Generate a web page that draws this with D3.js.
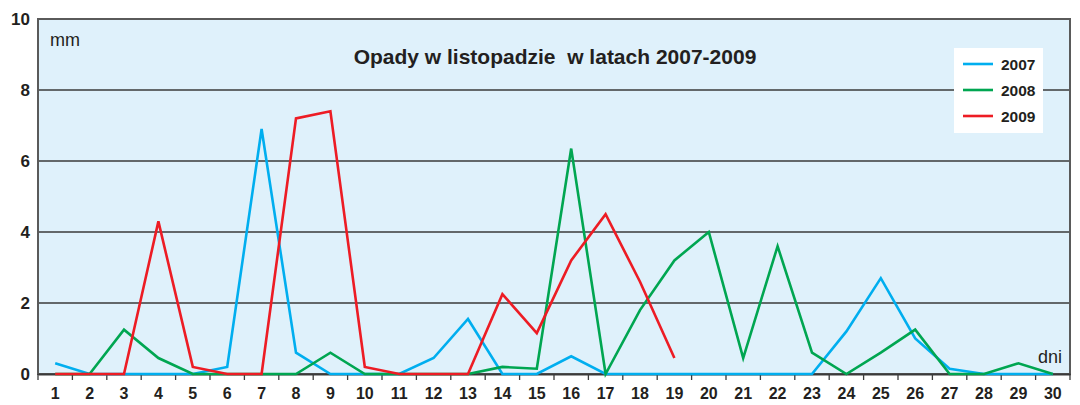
<!DOCTYPE html>
<html><head><meta charset="utf-8">
<script src="https://cdn.jsdelivr.net/npm/d3@7"></script>
<style>body{margin:0;background:#fff}svg{display:block}</style>
</head><body>
<svg id="c" width="1080" height="405"></svg>
<script>
const days = d3.range(1, 31);
const yTicks = [0, 2, 4, 6, 8, 10];
const s2007 = [0.3,0,0,0,0,0.2,6.9,0.6,0,0,0,0.45,1.55,0,0,0.5,0,0,0,0,0,0,0,1.2,2.7,1.0,0.15,0,0,0];
const s2008 = [0,0,1.25,0.45,0,0,0,0,0.6,0,0,0,0,0.2,0.15,6.35,0,1.8,3.2,4.0,0.45,3.6,0.6,0,0.6,1.25,0,0,0.3,0];
const s2009 = [0,0,0,4.3,0.2,0,0,7.2,7.4,0.2,0,0,0,2.25,1.15,3.2,4.5,2.6,0.45];
const seriesNames = ["2007","2008","2009"];
const seriesColors = ["#00aeef","#00a651","#ed1c24"];
const seriesData = [s2007, s2008, s2009];

const svg = d3.select("#c");
const L = 38, R = 1070, T = 19, B = 374;
const x = d3.scaleBand().domain(days).range([L, R]).padding(0);
const y = d3.scaleLinear().domain([0, 10]).range([B, T]);
const font = "'Liberation Sans', Arial, sans-serif";

svg.append("rect").attr("x", L).attr("y", T).attr("width", R - L).attr("height", B - T).attr("fill", "#dff1fb");

// grid
svg.append("g").selectAll("line").data(yTicks.filter(v => v > 0 && v < 10)).join("line")
  .attr("x1", L).attr("x2", R).attr("y1", d => y(d)).attr("y2", d => y(d))
  .attr("stroke", "#3a3a3a").attr("stroke-width", 1.3);

// frame
svg.append("rect").attr("x", L).attr("y", T).attr("width", R - L).attr("height", B - T)
  .attr("fill", "none").attr("stroke", "#5a5a5a").attr("stroke-width", 2);

// y labels
svg.append("g").selectAll("text").data(yTicks).join("text")
  .attr("x", 30).attr("y", d => y(d)).attr("dy", "0.36em").attr("text-anchor", "end")
  .attr("font-family", font).attr("font-weight", "bold").attr("font-size", 17).attr("fill", "#231f20")
  .text(d => d);

// x axis
const xa = svg.append("g").attr("transform", `translate(0,${B})`)
  .call(d3.axisBottom(x).tickSize(0).tickPadding(14));
xa.select(".domain").attr("stroke", "#3a3a3a").attr("stroke-width", 2);
xa.selectAll("text").attr("font-family", font).attr("font-weight", "bold").attr("font-size", 16).attr("fill", "#231f20");
xa.selectAll(".sep").data(days.concat([31])).join("line").attr("class", "sep")
  .attr("x1", d => d <= 30 ? x(d) : R).attr("x2", d => d <= 30 ? x(d) : R)
  .attr("y1", 0).attr("y2", 6).attr("stroke", "#3a3a3a").attr("stroke-width", 1.3);

// lines
const line = d3.line().x((d, i) => x(days[i]) + x.bandwidth() / 2).y(d => y(d));
svg.append("g").selectAll("path").data(seriesData).join("path")
  .attr("d", d => line(d)).attr("fill", "none")
  .attr("stroke", (d, i) => seriesColors[i]).attr("stroke-width", 2.6).attr("stroke-linejoin", "miter");

// texts
svg.append("text").attr("x", 555).attr("y", 64).attr("text-anchor", "middle")
  .attr("font-family", font).attr("font-weight", "bold").attr("font-size", 21).attr("fill", "#231f20")
  .attr("xml:space", "preserve").text("Opady w listopadzie  w latach 2007-2009");
svg.append("text").attr("x", 50).attr("y", 46).attr("font-family", font).attr("font-size", 18).attr("fill", "#231f20").text("mm");
svg.append("text").attr("x", 1062).attr("y", 363).attr("text-anchor", "end").attr("font-family", font).attr("font-size", 18).attr("fill", "#231f20").text("dni");

// legend
const lg = svg.append("g");
lg.append("rect").attr("x", 954).attr("y", 48).attr("width", 89).attr("height", 85).attr("fill", "#fff");
seriesNames.forEach((n, i) => {
  const yy = 64 + i * 26;
  lg.append("line").attr("x1", 963).attr("x2", 993).attr("y1", yy).attr("y2", yy)
    .attr("stroke", seriesColors[i]).attr("stroke-width", 2.6);
  lg.append("text").attr("x", 1001).attr("y", yy).attr("dy", "0.36em")
    .attr("font-family", font).attr("font-weight", "bold").attr("font-size", 15.5).attr("fill", "#231f20").text(n);
});
</script>
</body></html>
